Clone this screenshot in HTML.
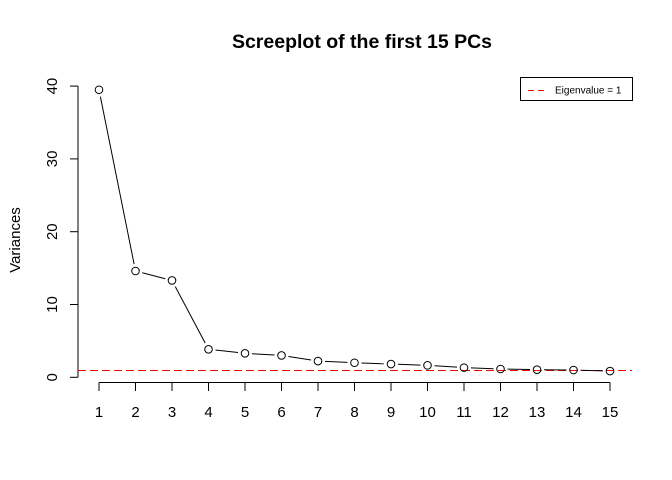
<!DOCTYPE html>
<html><head><meta charset="utf-8"><style>body{margin:0;background:#fff}svg{display:block}text{font-family:"Liberation Sans",sans-serif}</style></head>
<body>
<svg id="c" width="672" height="480">
<text x="362" y="48" text-anchor="middle" font-size="19.5" font-weight="bold">Screeplot of the first 15 PCs</text>
<text transform="translate(20,240) rotate(-90)" text-anchor="middle" font-size="15">Variances</text>
<g id="axes"></g><g id="marks"></g>
<g>
<rect x="520.5" y="77.5" width="112" height="23" fill="#fff" stroke="#000"/>
<line x1="528" y1="90.5" x2="548" y2="90.5" stroke="#f00" stroke-dasharray="6,4"/>
<text x="555" y="93.5" font-size="10">Eigenvalue = 1</text>
</g>
</svg>
<script>
const categories=[1,2,3,4,5,6,7,8,9,10,11,12,13,14,15];
const variances=[39.5,14.6,13.3,3.85,3.3,3.0,2.23,2.0,1.82,1.64,1.33,1.14,1.05,1.0,0.86];
const yTicks=[0,10,20,30,40];
const threshold=1;
const NS="http://www.w3.org/2000/svg";
const X=v=>99+(v-1)*36.5, Y=v=>377.3-v*7.28;
const ax=document.getElementById('axes'), mk=document.getElementById('marks');
function mkEl(t,a,p){const e=document.createElementNS(NS,t);for(const k in a)e.setAttribute(k,a[k]);p.appendChild(e);return e;}
let e=mkEl('line',{x1:78,y1:Y(0),x2:78,y2:Y(40),stroke:'#000'},ax);


yTicks.forEach(t=>{
 let l=mkEl('line',{x1:70,y1:Y(t),x2:78,y2:Y(t),stroke:'#000'},ax);
 
 
 let s=mkEl('text',{transform:`translate(57,${Y(t)}) rotate(-90)`,'text-anchor':'middle','font-size':15},ax);
 s.textContent=t;
 
 
});
e=mkEl('line',{x1:X(1),y1:382.5,x2:X(15),y2:382.5,stroke:'#000'},ax);


categories.forEach(c=>{
 let l=mkEl('line',{x1:X(c),y1:382.5,x2:X(c),y2:391,stroke:'#000'},ax);
 
 
 let s=mkEl('text',{x:X(c),y:417,'text-anchor':'middle','font-size':15},ax);
 s.textContent=c;
 
 
});
e=mkEl('line',{x1:78,y1:Math.round(Y(threshold))+0.5,x2:632,y2:Math.round(Y(threshold))+0.5,stroke:'#f00','stroke-width':1.2,'stroke-dasharray':'8,4','shape-rendering':'crispEdges'},mk);


for(let i=0;i<categories.length-1;i++){
 const x1=X(categories[i]),y1=Y(variances[i]),x2=X(categories[i+1]),y2=Y(variances[i+1]);
 const d=Math.hypot(x2-x1,y2-y1),g=7;
 if(d>2*g){const ux=(x2-x1)/d,uy=(y2-y1)/d;
  let l=mkEl('line',{x1:x1+ux*g,y1:y1+uy*g,x2:x2-ux*g,y2:y2-uy*g,stroke:'#000'},mk);
  
  }
}
categories.forEach((c,i)=>{
 let p=mkEl('circle',{cx:X(c),cy:Y(variances[i]),r:3.8,fill:'none',stroke:'#000'},mk);
 
 
});
</script>
</body></html>
